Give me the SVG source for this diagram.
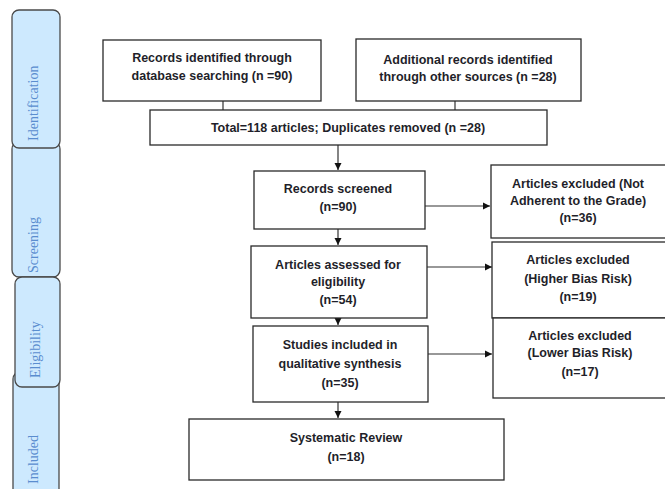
<svg xmlns="http://www.w3.org/2000/svg" width="665" height="489" viewBox="0 0 665 489">
<style>
.tab{fill:#cde9fe;stroke:#4a4a4a;stroke-width:1.3}
.tt{font-family:"Liberation Serif",serif;font-size:14px;fill:#5a8dcf}
.box{fill:#fff;stroke:#2a2a2a;stroke-width:1.3}
.t{font-family:"Liberation Sans",Arial,sans-serif;font-size:12.5px;font-weight:bold;fill:#1f1f2a;text-anchor:middle}
.c{stroke:#333;stroke-width:1.2;fill:none}
</style>
<defs>
<marker id="ah" markerWidth="8" markerHeight="8" refX="7" refY="4" orient="auto" markerUnits="userSpaceOnUse">
<path d="M0,0.5 L7,4 L0,7.5 z" fill="#111"/>
</marker>
</defs>
<rect width="665" height="489" fill="#fff"/>
<g id="tab-included"><rect class="tab" x="13" y="372" width="46" height="130" rx="7"/><text class="tt" transform="translate(38,484) rotate(-90)">Included</text></g>
<g id="tab-screening"><rect class="tab" x="12" y="142" width="48" height="135" rx="7"/><text class="tt" transform="translate(38,273) rotate(-90)">Screening</text></g>
<g id="tab-identification"><rect class="tab" x="12" y="10" width="48" height="138" rx="7"/><text class="tt" transform="translate(38,141) rotate(-90)">Identification</text></g>
<g id="tab-eligibility"><rect class="tab" x="15" y="277" width="45" height="110" rx="7"/><text class="tt" transform="translate(40,378) rotate(-90)">Eligibility</text></g>

<g id="connectors">
<line class="c" x1="223" y1="101" x2="223" y2="110"/>
<line class="c" x1="455" y1="101" x2="455" y2="110"/>
<line class="c" x1="338" y1="145" x2="338" y2="170" marker-end="url(#ah)"/>
<line class="c" x1="338" y1="214" x2="338" y2="245" marker-end="url(#ah)"/>
<line class="c" x1="338" y1="298" x2="338" y2="325" marker-end="url(#ah)"/>
<line class="c" x1="338" y1="383" x2="338" y2="418" marker-end="url(#ah)"/>
<line class="c" x1="425" y1="206" x2="490" y2="206" marker-end="url(#ah)"/>
<line class="c" x1="427" y1="267" x2="492" y2="267" marker-end="url(#ah)"/>
<line class="c" x1="428" y1="354" x2="492" y2="354" marker-end="url(#ah)"/>
</g>

<g id="n-db"><rect class="box" x="103" y="40" width="218" height="61"/><text class="t" x="212" y="62">Records identified through</text><text class="t" x="212" y="80">database searching (n =90)</text></g>
<g id="n-other"><rect class="box" x="356" y="39" width="225" height="62"/><text class="t" x="468" y="64">Additional records identified</text><text class="t" x="468" y="81">through other sources (n =28)</text></g>
<g id="n-total"><rect class="box" x="150" y="110" width="397" height="35"/><text class="t" x="348" y="132">Total=118 articles; Duplicates removed (n =28)</text></g>
<g id="n-screened"><rect class="box" x="254" y="171" width="171" height="58"/><text class="t" x="338" y="193">Records screened</text><text class="t" x="338" y="211">(n=90)</text></g>
<g id="n-ex1"><rect class="box" x="491" y="165" width="180" height="73"/><text class="t" x="578" y="188">Articles excluded (Not</text><text class="t" x="578" y="205">Adherent to the Grade)</text><text class="t" x="578" y="222">(n=36)</text></g>
<g id="n-assessed"><rect class="box" x="251" y="246" width="176" height="72"/><text class="t" x="338" y="269">Articles assessed for</text><text class="t" x="338" y="286">eligibility</text><text class="t" x="338" y="304">(n=54)</text></g>
<g id="n-ex2"><rect class="box" x="492" y="242" width="180" height="76"/><text class="t" x="578" y="264">Articles excluded</text><text class="t" x="578" y="283">(Higher Bias Risk)</text><text class="t" x="578" y="301">(n=19)</text></g>
<g id="n-studies"><rect class="box" x="253" y="326" width="175" height="76"/><text class="t" x="340" y="349">Studies included in</text><text class="t" x="340" y="368">qualitative synthesis</text><text class="t" x="340" y="387">(n=35)</text></g>
<g id="n-ex3"><rect class="box" x="493" y="318" width="180" height="80"/><text class="t" x="580" y="340">Articles excluded</text><text class="t" x="580" y="357">(Lower Bias Risk)</text><text class="t" x="580" y="376">(n=17)</text></g>
<g id="n-review"><rect class="box" x="189" y="419" width="315" height="61"/><text class="t" x="346" y="442">Systematic Review</text><text class="t" x="346" y="461">(n=18)</text></g>
</svg>
